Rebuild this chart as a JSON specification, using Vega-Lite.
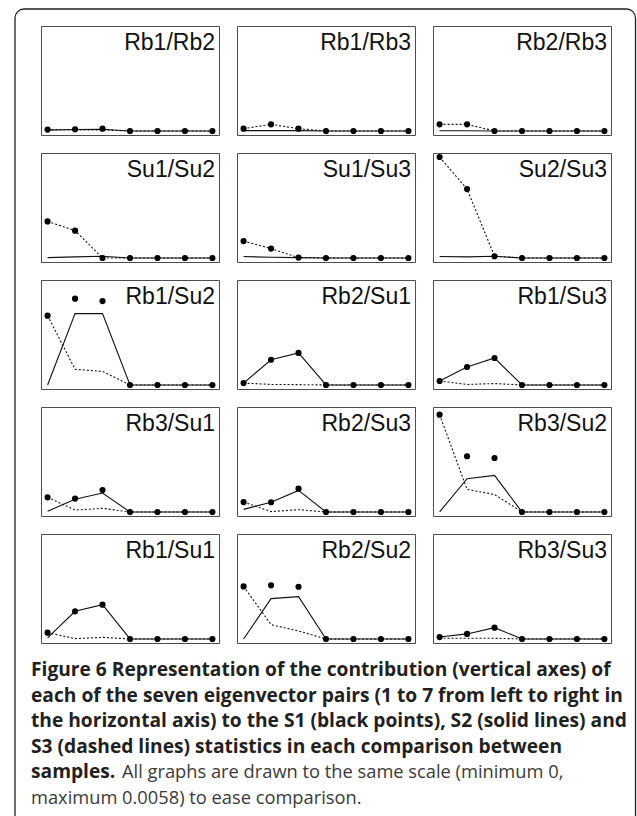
{
  "$schema": "https://vega.github.io/schema/vega-lite/v6.json",
  "padding": {"left": 13, "top": 7, "right": 0, "bottom": -12},
  "background": "white",
  "config": {
    "view": {"stroke": "#4d4d4d", "strokeWidth": 1},
    "header": {"labels": false, "title": null, "labelFontSize": 0, "labelPadding": 0, "labelExpr": "''"},
    "facet": {"spacing": 18}
  },
  "data": {"values": [
      {"pair": "Rb1/Rb2", "x": 1, "s1": 0.00008, "s2": 0.00005, "s3": 0.00008},
      {"pair": "Rb1/Rb2", "x": 2, "s1": 0.0001, "s2": 0.00008, "s3": 0.00006},
      {"pair": "Rb1/Rb2", "x": 3, "s1": 0.00013, "s2": 0.0001, "s3": 0.00005},
      {"pair": "Rb1/Rb2", "x": 4, "s1": 0, "s2": 0, "s3": 0},
      {"pair": "Rb1/Rb2", "x": 5, "s1": 0, "s2": 0, "s3": 0},
      {"pair": "Rb1/Rb2", "x": 6, "s1": 0, "s2": 0, "s3": 0},
      {"pair": "Rb1/Rb2", "x": 7, "s1": 0, "s2": 0, "s3": 0},
      {"pair": "Rb1/Rb3", "x": 1, "s1": 0.00013, "s2": 0.00002, "s3": 0.00013},
      {"pair": "Rb1/Rb3", "x": 2, "s1": 0.00038, "s2": 0.00002, "s3": 0.00038},
      {"pair": "Rb1/Rb3", "x": 3, "s1": 0.00013, "s2": 0.00002, "s3": 0.00013},
      {"pair": "Rb1/Rb3", "x": 4, "s1": 0, "s2": 0, "s3": 0},
      {"pair": "Rb1/Rb3", "x": 5, "s1": 0, "s2": 0, "s3": 0},
      {"pair": "Rb1/Rb3", "x": 6, "s1": 0, "s2": 0, "s3": 0},
      {"pair": "Rb1/Rb3", "x": 7, "s1": 0, "s2": 0, "s3": 0},
      {"pair": "Rb2/Rb3", "x": 1, "s1": 0.00038, "s2": 0.00001, "s3": 0.00038},
      {"pair": "Rb2/Rb3", "x": 2, "s1": 0.00038, "s2": 0.00001, "s3": 0.00038},
      {"pair": "Rb2/Rb3", "x": 3, "s1": 0, "s2": 0, "s3": 0},
      {"pair": "Rb2/Rb3", "x": 4, "s1": 0, "s2": 0, "s3": 0},
      {"pair": "Rb2/Rb3", "x": 5, "s1": 0, "s2": 0, "s3": 0},
      {"pair": "Rb2/Rb3", "x": 6, "s1": 0, "s2": 0, "s3": 0},
      {"pair": "Rb2/Rb3", "x": 7, "s1": 0, "s2": 0, "s3": 0},
      {"pair": "Su1/Su2", "x": 1, "s1": 0.0021, "s2": 0.00002, "s3": 0.0021},
      {"pair": "Su1/Su2", "x": 2, "s1": 0.00157, "s2": 0.00006, "s3": 0.00157},
      {"pair": "Su1/Su2", "x": 3, "s1": 0, "s2": 0.0001, "s3": 0},
      {"pair": "Su1/Su2", "x": 4, "s1": 0, "s2": 0, "s3": 0},
      {"pair": "Su1/Su2", "x": 5, "s1": 0, "s2": 0, "s3": 0},
      {"pair": "Su1/Su2", "x": 6, "s1": 0, "s2": 0, "s3": 0},
      {"pair": "Su1/Su2", "x": 7, "s1": 0, "s2": 0, "s3": 0},
      {"pair": "Su1/Su3", "x": 1, "s1": 0.00097, "s2": 0.00008, "s3": 0.00097},
      {"pair": "Su1/Su3", "x": 2, "s1": 0.00054, "s2": 0.00004, "s3": 0.00054},
      {"pair": "Su1/Su3", "x": 3, "s1": 0.00002, "s2": 0.00002, "s3": 0.00002},
      {"pair": "Su1/Su3", "x": 4, "s1": 0, "s2": 0, "s3": 0},
      {"pair": "Su1/Su3", "x": 5, "s1": 0, "s2": 0, "s3": 0},
      {"pair": "Su1/Su3", "x": 6, "s1": 0, "s2": 0, "s3": 0},
      {"pair": "Su1/Su3", "x": 7, "s1": 0, "s2": 0, "s3": 0},
      {"pair": "Su2/Su3", "x": 1, "s1": 0.0058, "s2": 0.00008, "s3": 0.0058},
      {"pair": "Su2/Su3", "x": 2, "s1": 0.00396, "s2": 0.00006, "s3": 0.00396},
      {"pair": "Su2/Su3", "x": 3, "s1": 0.0001, "s2": 0.0001, "s3": 0.0001},
      {"pair": "Su2/Su3", "x": 4, "s1": 0, "s2": 0, "s3": 0},
      {"pair": "Su2/Su3", "x": 5, "s1": 0, "s2": 0, "s3": 0},
      {"pair": "Su2/Su3", "x": 6, "s1": 0, "s2": 0, "s3": 0},
      {"pair": "Su2/Su3", "x": 7, "s1": 0, "s2": 0, "s3": 0},
      {"pair": "Rb1/Su2", "x": 1, "s1": 0.00398, "s2": 0, "s3": 0.00398},
      {"pair": "Rb1/Su2", "x": 2, "s1": 0.00496, "s2": 0.0041, "s3": 0.0009},
      {"pair": "Rb1/Su2", "x": 3, "s1": 0.00482, "s2": 0.0041, "s3": 0.00078},
      {"pair": "Rb1/Su2", "x": 4, "s1": 0, "s2": 0, "s3": 0},
      {"pair": "Rb1/Su2", "x": 5, "s1": 0, "s2": 0, "s3": 0},
      {"pair": "Rb1/Su2", "x": 6, "s1": 0, "s2": 0, "s3": 0},
      {"pair": "Rb1/Su2", "x": 7, "s1": 0, "s2": 0, "s3": 0},
      {"pair": "Rb2/Su1", "x": 1, "s1": 0.00011, "s2": 0.00011, "s3": 0.00011},
      {"pair": "Rb2/Su1", "x": 2, "s1": 0.00145, "s2": 0.00145, "s3": 0.00003},
      {"pair": "Rb2/Su1", "x": 3, "s1": 0.00184, "s2": 0.00184, "s3": 0.00002},
      {"pair": "Rb2/Su1", "x": 4, "s1": 0, "s2": 0, "s3": 0},
      {"pair": "Rb2/Su1", "x": 5, "s1": 0, "s2": 0, "s3": 0},
      {"pair": "Rb2/Su1", "x": 6, "s1": 0, "s2": 0, "s3": 0},
      {"pair": "Rb2/Su1", "x": 7, "s1": 0, "s2": 0, "s3": 0},
      {"pair": "Rb1/Su3", "x": 1, "s1": 0.00023, "s2": 0.00023, "s3": 0.00023},
      {"pair": "Rb1/Su3", "x": 2, "s1": 0.00103, "s2": 0.00103, "s3": 0.00003},
      {"pair": "Rb1/Su3", "x": 3, "s1": 0.00155, "s2": 0.00155, "s3": 0.00008},
      {"pair": "Rb1/Su3", "x": 4, "s1": 0, "s2": 0, "s3": 0},
      {"pair": "Rb1/Su3", "x": 5, "s1": 0, "s2": 0, "s3": 0},
      {"pair": "Rb1/Su3", "x": 6, "s1": 0, "s2": 0, "s3": 0},
      {"pair": "Rb1/Su3", "x": 7, "s1": 0, "s2": 0, "s3": 0},
      {"pair": "Rb3/Su1", "x": 1, "s1": 0.00084, "s2": 0.00004, "s3": 0.00084},
      {"pair": "Rb3/Su1", "x": 2, "s1": 0.00077, "s2": 0.00073, "s3": 0.00011},
      {"pair": "Rb3/Su1", "x": 3, "s1": 0.00126, "s2": 0.00109, "s3": 0.00021},
      {"pair": "Rb3/Su1", "x": 4, "s1": 0, "s2": 0, "s3": 0},
      {"pair": "Rb3/Su1", "x": 5, "s1": 0, "s2": 0, "s3": 0},
      {"pair": "Rb3/Su1", "x": 6, "s1": 0, "s2": 0, "s3": 0},
      {"pair": "Rb3/Su1", "x": 7, "s1": 0, "s2": 0, "s3": 0},
      {"pair": "Rb2/Su3", "x": 1, "s1": 0.00057, "s2": 0.00015, "s3": 0.00057},
      {"pair": "Rb2/Su3", "x": 2, "s1": 0.00056, "s2": 0.00056, "s3": 0.00002},
      {"pair": "Rb2/Su3", "x": 3, "s1": 0.00134, "s2": 0.00124, "s3": 0.00013},
      {"pair": "Rb2/Su3", "x": 4, "s1": 0, "s2": 0, "s3": 0},
      {"pair": "Rb2/Su3", "x": 5, "s1": 0, "s2": 0, "s3": 0},
      {"pair": "Rb2/Su3", "x": 6, "s1": 0, "s2": 0, "s3": 0},
      {"pair": "Rb2/Su3", "x": 7, "s1": 0, "s2": 0, "s3": 0},
      {"pair": "Rb3/Su2", "x": 1, "s1": 0.00559, "s2": 0, "s3": 0.00559},
      {"pair": "Rb3/Su2", "x": 2, "s1": 0.0032, "s2": 0.00191, "s3": 0.0013},
      {"pair": "Rb3/Su2", "x": 3, "s1": 0.0031, "s2": 0.0021, "s3": 0.001},
      {"pair": "Rb3/Su2", "x": 4, "s1": 0, "s2": 0, "s3": 0},
      {"pair": "Rb3/Su2", "x": 5, "s1": 0, "s2": 0, "s3": 0},
      {"pair": "Rb3/Su2", "x": 6, "s1": 0, "s2": 0, "s3": 0},
      {"pair": "Rb3/Su2", "x": 7, "s1": 0, "s2": 0, "s3": 0},
      {"pair": "Rb1/Su1", "x": 1, "s1": 0.00036, "s2": 0.00006, "s3": 0.00036},
      {"pair": "Rb1/Su1", "x": 2, "s1": 0.00159, "s2": 0.00159, "s3": 0.00002},
      {"pair": "Rb1/Su1", "x": 3, "s1": 0.00197, "s2": 0.00197, "s3": 0.00009},
      {"pair": "Rb1/Su1", "x": 4, "s1": 0, "s2": 0, "s3": 0},
      {"pair": "Rb1/Su1", "x": 5, "s1": 0, "s2": 0, "s3": 0},
      {"pair": "Rb1/Su1", "x": 6, "s1": 0, "s2": 0, "s3": 0},
      {"pair": "Rb1/Su1", "x": 7, "s1": 0, "s2": 0, "s3": 0},
      {"pair": "Rb2/Su2", "x": 1, "s1": 0.00302, "s2": 0, "s3": 0.00302},
      {"pair": "Rb2/Su2", "x": 2, "s1": 0.00308, "s2": 0.00232, "s3": 0.00082},
      {"pair": "Rb2/Su2", "x": 3, "s1": 0.003, "s2": 0.00243, "s3": 0.00046},
      {"pair": "Rb2/Su2", "x": 4, "s1": 0, "s2": 0, "s3": 0},
      {"pair": "Rb2/Su2", "x": 5, "s1": 0, "s2": 0, "s3": 0},
      {"pair": "Rb2/Su2", "x": 6, "s1": 0, "s2": 0, "s3": 0},
      {"pair": "Rb2/Su2", "x": 7, "s1": 0, "s2": 0, "s3": 0},
      {"pair": "Rb3/Su3", "x": 1, "s1": 0.00011, "s2": 0.00011, "s3": 0.00004},
      {"pair": "Rb3/Su3", "x": 2, "s1": 0.00029, "s2": 0.00029, "s3": 0.00004},
      {"pair": "Rb3/Su3", "x": 3, "s1": 0.00065, "s2": 0.00065, "s3": 0.00004},
      {"pair": "Rb3/Su3", "x": 4, "s1": 0, "s2": 0, "s3": 0},
      {"pair": "Rb3/Su3", "x": 5, "s1": 0, "s2": 0, "s3": 0},
      {"pair": "Rb3/Su3", "x": 6, "s1": 0, "s2": 0, "s3": 0},
      {"pair": "Rb3/Su3", "x": 7, "s1": 0, "s2": 0, "s3": 0},
      {"pair": "Rb1/Su1", "line": 1, "text": "Figure 6 Representation of the contribution (vertical axes) of", "part": "bold"},
      {"pair": "Rb1/Su1", "line": 2, "text": "each of the seven eigenvector pairs (1 to 7 from left to right in", "part": "bold"},
      {"pair": "Rb1/Su1", "line": 3, "text": "the horizontal axis) to the S1 (black points), S2 (solid lines) and", "part": "bold"},
      {"pair": "Rb1/Su1", "line": 4, "text": "S3 (dashed lines) statistics in each comparison between", "part": "bold"},
      {"pair": "Rb1/Su1", "line": 5, "text": "samples.", "part": "bold"},
      {"pair": "Rb1/Su1", "line": 5, "text": "All graphs are drawn to the same scale (minimum 0,", "part": "tail"},
      {"pair": "Rb1/Su1", "line": 6, "text": "maximum 0.0058) to ease comparison.", "part": "plain"}
  ]},
  "facet": {
    "field": "pair",
    "type": "nominal",
    "sort": ["Rb1/Rb2", "Rb1/Rb3", "Rb2/Rb3", "Su1/Su2", "Su1/Su3", "Su2/Su3", "Rb1/Su2", "Rb2/Su1", "Rb1/Su3", "Rb3/Su1", "Rb2/Su3", "Rb3/Su2", "Rb1/Su1", "Rb2/Su2", "Rb3/Su3"],
    "title": null,
    "header": {"title": null, "labels": false, "labelFontSize": 0, "labelPadding": 0, "labelExpr": "''"}
  },
  "columns": 3,
  "spacing": 18,
  "bounds": "flush",
  "spec": {
    "width": 178,
    "height": 109,
    "layer": [
      {
        "encoding": {
          "x": {"field": "x", "type": "quantitative", "scale": {"domain": [0.76, 7.24], "nice": false, "zero": false}, "axis": null}
        },
        "layer": [
          {
            "transform": [{"filter": "isValid(datum.s2)"}],
            "mark": {"type": "line", "color": "#111111", "strokeWidth": 1.1},
            "encoding": {"y": {"field": "s2", "type": "quantitative", "scale": {"domain": [-0.000232, 0.006032], "nice": false, "zero": false}, "axis": null}}
          },
          {
            "transform": [{"filter": "isValid(datum.s3)"}],
            "mark": {"type": "line", "color": "#111111", "strokeWidth": 1.1, "strokeDash": [2, 2]},
            "encoding": {"y": {"field": "s3", "type": "quantitative", "axis": null}}
          },
          {
            "transform": [{"filter": "isValid(datum.s1)"}],
            "mark": {"type": "point", "filled": true, "color": "#000000", "size": 38, "opacity": 1},
            "encoding": {"y": {"field": "s1", "type": "quantitative", "axis": null}}
          },
          {
            "transform": [{"filter": "datum.x == 1"}],
            "mark": {"type": "text", "align": "right", "baseline": "top", "dx": -4, "dy": 6, "font": "Liberation Sans", "fontSize": 23, "color": "#111111"},
            "encoding": {
              "text": {"field": "pair", "type": "nominal"},
              "x": {"datum": 7.24},
              "y": {"datum": 0.006032}
            }
          }
        ]
      },
      {
        "layer": [
          {
            "transform": [{"filter": "datum.part == 'bold' && datum.line == 1"}],
            "mark": {"type": "rect", "fillOpacity": 0, "stroke": "#231f20", "strokeWidth": 1.3, "cornerRadius": 9},
            "encoding": {
              "x": {"datum": -26, "type": "quantitative", "scale": {"domain": [0, 178], "nice": false, "zero": false}, "axis": null},
              "x2": {"datum": 594.5},
              "y": {"datum": -25.055, "type": "quantitative", "scale": {"domain": [-4.547, -0.289], "reverse": true, "nice": false, "zero": false}, "axis": null},
              "y2": {"datum": 6.946}
            }
          },
          {
            "transform": [{"filter": "datum.part == 'bold'"}],
            "mark": {"type": "text", "align": "left", "baseline": "alphabetic", "font": "Open Sans", "fontWeight": "bold", "fontSize": 19.2, "color": "#231f20"},
            "encoding": {
              "text": {"field": "text", "type": "nominal"},
              "x": {"datum": -10},
              "y": {"field": "line", "type": "quantitative"}
            }
          },
          {
            "transform": [{"filter": "datum.part == 'tail'"}],
            "mark": {"type": "text", "align": "left", "baseline": "alphabetic", "font": "Open Sans", "fontWeight": "normal", "fontSize": 18.3, "color": "#3a3a3a"},
            "encoding": {
              "text": {"field": "text", "type": "nominal"},
              "x": {"datum": 81},
              "y": {"field": "line", "type": "quantitative"}
            }
          },
          {
            "transform": [{"filter": "datum.part == 'plain'"}],
            "mark": {"type": "text", "align": "left", "baseline": "alphabetic", "font": "Open Sans", "fontWeight": "normal", "fontSize": 18.3, "color": "#3a3a3a"},
            "encoding": {
              "text": {"field": "text", "type": "nominal"},
              "x": {"datum": -10},
              "y": {"field": "line", "type": "quantitative"}
            }
          }
        ]
      }
    ],
    "resolve": {"scale": {"x": "independent", "y": "independent"}}
  }
}
